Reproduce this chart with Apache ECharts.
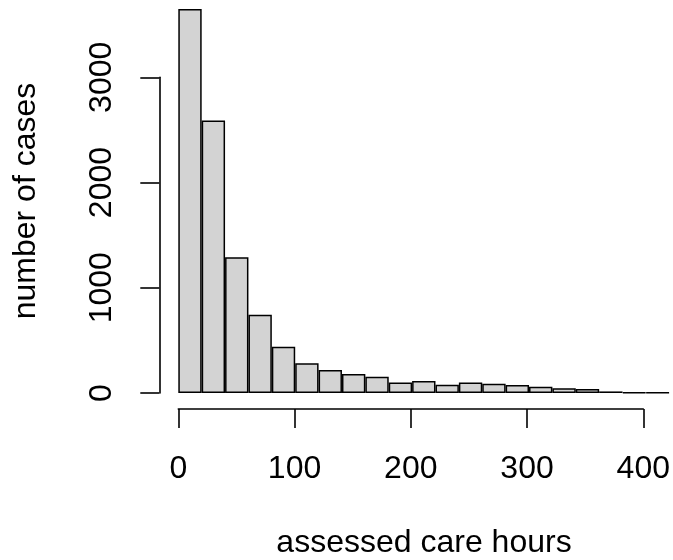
<!DOCTYPE html>
<html>
<head>
<meta charset="utf-8">
<script src="https://cdn.jsdelivr.net/npm/echarts@6/dist/echarts.min.js"></script>
<style>
  html, body { margin: 0; padding: 0; background: #fff; }
  #main { width: 673px; height: 560px; }
</style>
</head>
<body>
<div id="main"></div>
<script>
// histogram bins of width 20 (hours)
var binLabels = ['0-20', '20-40', '40-60', '60-80', '80-100', '100-120', '120-140',
  '140-160', '160-180', '180-200', '200-220', '220-240', '240-260', '260-280',
  '280-300', '300-320', '320-340', '340-360', '360-380', '380-400', '400-420'];
var binCounts = [3650, 2590, 1290, 745, 440, 282, 219, 181, 155, 101, 114,
  79, 101, 88, 77, 60, 44, 38, 15, 5, 4];
var xTicks = [0, 100, 200, 300, 400];
var yTicks = [0, 1000, 2000, 3000];

var font = '"Liberation Sans", Arial, Helvetica, sans-serif';
var myChart = echarts.init(document.getElementById('main'));

var option = {
    backgroundColor: '#ffffff',
    animation: false,
    grid: [
        // bars
        { left: 178.3, width: 491, top: 3.8, height: 389.2 },
        // R style axes (span only first to last tick)
        { left: 178.3, width: 467.7, top: 77.3, height: 315.7 }
    ],
    xAxis: [
        {
            gridIndex: 0,
            type: 'category',
            data: binLabels,
            show: false
        },
        {
            gridIndex: 1,
            type: 'value',
            min: xTicks[0],
            max: xTicks[xTicks.length - 1],
            interval: xTicks[1] - xTicks[0],
            offset: 16,
            axisLine: { show: true, onZero: false, lineStyle: { color: '#000', width: 1.6 } },
            axisTick: { show: true, length: 19, lineStyle: { color: '#000', width: 1.6 } },
            axisLabel: { color: '#000', fontSize: 32, fontFamily: font, margin: 44,
                formatter: function (v) { return String(v); } },
            splitLine: { show: false }
        }
    ],
    yAxis: [
        {
            gridIndex: 0,
            type: 'value',
            min: 0,
            max: 3700,
            show: false
        },
        {
            gridIndex: 1,
            type: 'value',
            min: yTicks[0],
            max: yTicks[yTicks.length - 1],
            interval: yTicks[1] - yTicks[0],
            offset: 19,
            axisLine: { show: true, onZero: false, lineStyle: { color: '#000', width: 1.6 } },
            axisTick: { show: true, length: 19, lineStyle: { color: '#000', width: 1.6 } },
            axisLabel: { color: '#000', fontSize: 32, fontFamily: font, rotate: 90, margin: 41,
                formatter: function (v) { return String(v); } },
            splitLine: { show: false }
        }
    ],
    graphic: [
        {
            type: 'text',
            x: 424,
            y: 543,
            style: {
                text: 'assessed care hours',
                font: '32px ' + font,
                fill: '#000',
                textAlign: 'center', textVerticalAlign: 'middle',
                align: 'center', verticalAlign: 'middle'
            }
        },
        {
            type: 'text',
            x: 26,
            y: 201,
            rotation: Math.PI / 2,
            style: {
                text: 'number of cases',
                font: '32px ' + font,
                fill: '#000',
                textAlign: 'center', textVerticalAlign: 'middle',
                align: 'center', verticalAlign: 'middle'
            }
        }
    ],
    series: [
        {
            name: 'cases',
            type: 'bar',
            xAxisIndex: 0,
            yAxisIndex: 0,
            barCategoryGap: '0%',
            data: binCounts,
            itemStyle: { color: '#d3d3d3', borderColor: '#000', borderWidth: 1.5 }
        }
    ]
};

myChart.setOption(option);
</script>
</body>
</html>
